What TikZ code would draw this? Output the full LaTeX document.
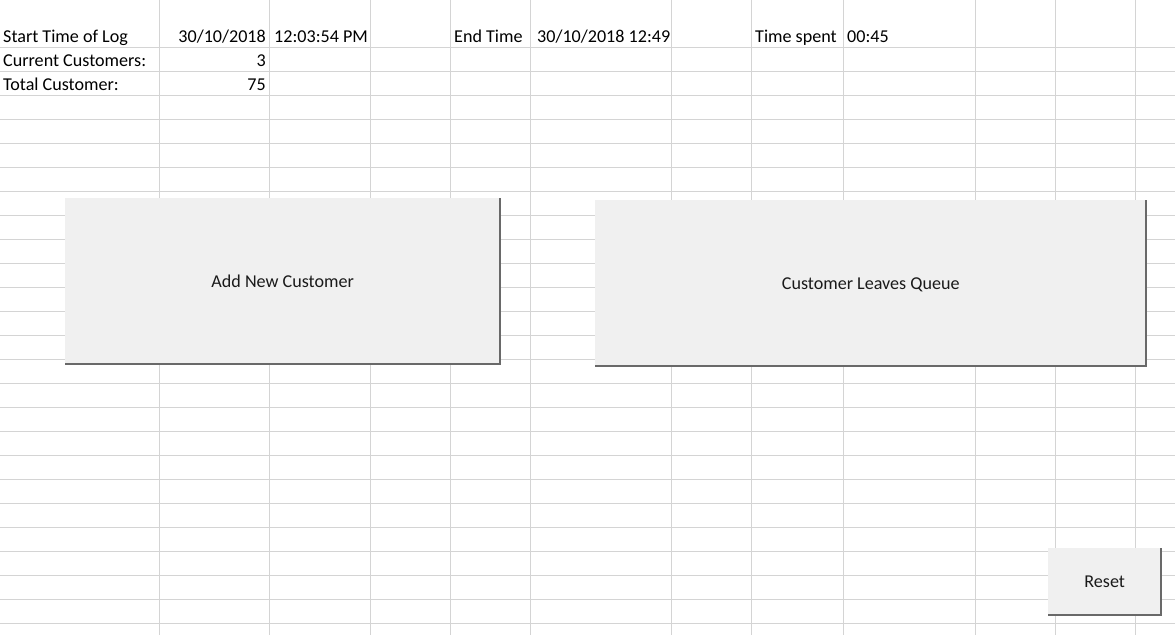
\documentclass[tikz,border=0pt]{standalone}
\usepackage{fontspec}
\setmainfont{Carlito}
\definecolor{gridgray}{HTML}{D4D4D4}
\definecolor{btnfill}{HTML}{F0F0F0}
\definecolor{btnshadow}{HTML}{696969}
\definecolor{btntext}{HTML}{1A1A1A}
\newcommand{\cellfont}{\fontsize{18.1}{21}\selectfont}
\begin{document}
\begin{tikzpicture}[x=1pt,y=-1pt,
  gridline/.style={draw=gridgray,line width=1pt},
  cell/.style={inner sep=0pt,font=\cellfont,text=black},
  button/.style={fill=btnfill,draw=none,inner sep=0pt,font=\cellfont,text=btntext,anchor=north west,text depth=0pt},
  shadowline/.style={draw=btnshadow,line width=2pt}]
\useasboundingbox[fill=white] (0,0) rectangle (1175,635);
% grid
\foreach \x in {159.5,269.5,370.5,450.5,530.5,671.5,751.5,843.5,975.5,1055.5,1135.5}
  \draw[gridline] (\x,0) -- (\x,635);
\foreach \k in {0,...,24}
  \draw[gridline] (0,47.5+24*\k) -- (1175,47.5+24*\k);
% cell texts
\node[cell,anchor=base west] (startlbl) at (3,42.5) {Start Time of Log};
\node[cell,anchor=base east] (startdate) at (266,42.5) {30/10/2018};
\node[cell,anchor=base west] (starttime) at (274,42.5) {12:03:54 PM};
\node[cell,anchor=base west] (endlbl) at (454,42.5) {End Time};
\node[cell,anchor=base west] (endval) at (537,42.5) {30/10/2018 12:49};
\node[cell,anchor=base west] (spentlbl) at (755,42.5) {Time spent};
\node[cell,anchor=base west] (spentval) at (847,42.5) {00:45};
\node[cell,anchor=base west] (curlbl) at (3,66.5) {Current Customers:};
\node[cell,anchor=base east] (curval) at (266,66.5) {3};
\node[cell,anchor=base west] (totlbl) at (3,90.5) {Total Customer:};
\node[cell,anchor=base east] (totval) at (266,90.5) {75};
% buttons
\node[button,minimum width=435pt,minimum height=166pt] (add) at (65,198) {Add New Customer};
\draw[shadowline] (add.north east) -- (add.south east) -- (add.south west);
\node[button,minimum width=551pt,minimum height=166pt] (leave) at (595,200) {Customer Leaves Queue};
\draw[shadowline] (leave.north east) -- (leave.south east) -- (leave.south west);
\node[button,minimum width=113pt,minimum height=67pt] (reset) at (1048,548) {Reset};
\draw[shadowline] (reset.north east) -- (reset.south east) -- (reset.south west);
\end{tikzpicture}
\end{document}
